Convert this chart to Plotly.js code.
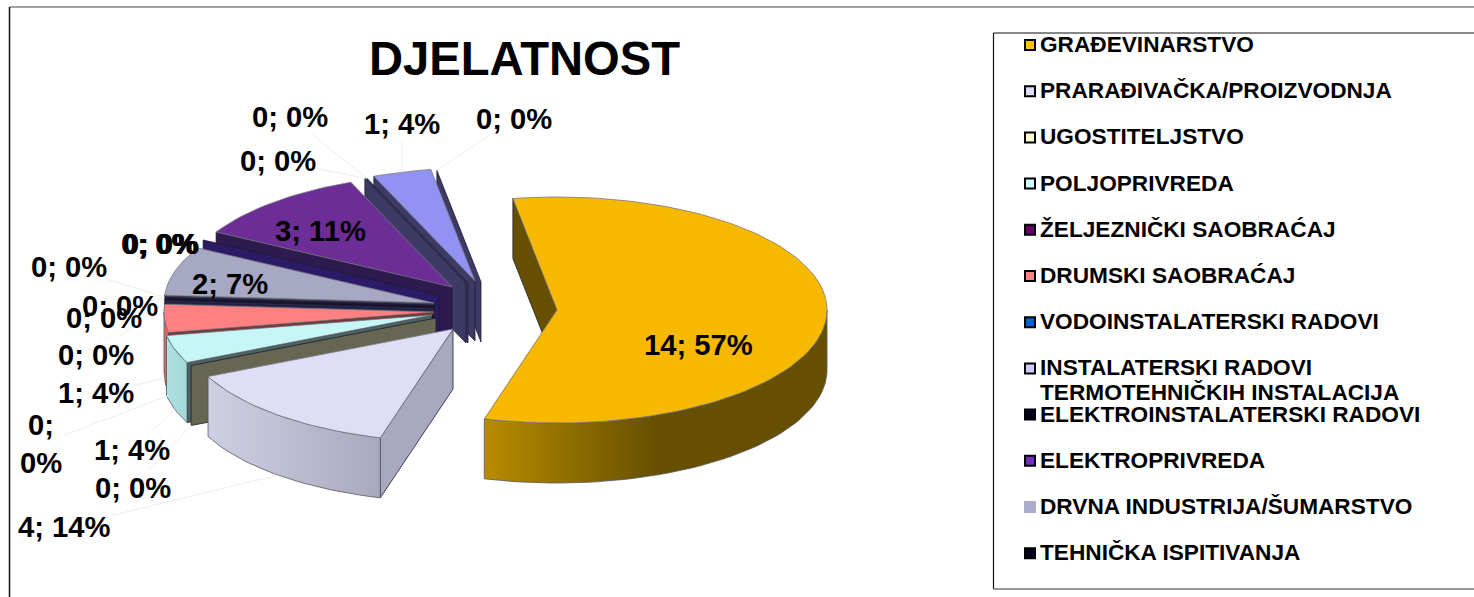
<!DOCTYPE html>
<html>
<head>
<meta charset="utf-8">
<script src="https://cdn.plot.ly/plotly-3.0.1.min.js"></script>
<style>html,body{margin:0;padding:0;background:#fff;overflow:hidden}#chart{width:1474px;height:597px}</style>
</head>
<body>
<div id="chart"></div>
<script>
// ---------- data ----------
const chartTitle = "DJELATNOST";
const categories = ["GRAĐEVINARSTVO","PRARAĐIVAČKA/PROIZVODNJA","UGOSTITELJSTVO","POLJOPRIVREDA","ŽELJEZNIČKI SAOBRAĆAJ","DRUMSKI SAOBRAĆAJ","VODOINSTALATERSKI RADOVI","INSTALATERSKI RADOVI<br>TERMOTEHNIČKIH INSTALACIJA","ELEKTROINSTALATERSKI RADOVI","ELEKTROPRIVREDA","DRVNA INDUSTRIJA/ŠUMARSTVO","TEHNIČKA ISPITIVANJA"];
const legendColors = ["#FFC000","#DDDDF8","#FFFFCC","#CCFFFF","#660066","#FF8080","#0066CC","#CCCCFF","#000020","#7030C0","#AAAECC","#000020"];
const legendEdges  = ["#000","#000","#000","#000","#000","#000","#000","#000","#000","#000","#AAAECC","#000"];
// slices in drawing order; the reference shows more slices than its legend lists
const values   = [14,4,0,1,0,1,0,0,0,0,2,0,3,0,0,1,0];
const percents = [57,14,0,4,0,4,0,0,0,0,7,0,11,0,0,4,0];
const shares   = [56.95,13.75,0,4,0,4,0,0,0,0,7,0,10.8,0,0,3.5,0];
const topColors  = ["#F7B900","#DEDEF6","#FFFFCC","#C6F6F6","#660066","#FF8080","#0066CC","#CCCCFF","#000020","#7030C0","#A6A8C4","#000020","#6C2D96","#9090F0","#9090F0","#9292F4","#9090F0"];
const sideColors = ["#665000","#A8A8C0","#666652","#4E6262","#2C0A3A","#7A3A3A","#2A2A55","#2A2A55","#1A1030","#2A1A55","#42425A","#2B1A66","#2D1A4F","#3D3A66","#3D3A66","#3D3A66","#3D3A66"];
const arcFrom = ["#B88C00","#CFCFE4","","#B0E0E0","","#E86868","","","","","","","","","","",""];
const arcTo   = ["#665000","#A8A8BE","","#A4D8D8","","#D85A5A","","","","","","","","","","",""];

// ---------- layout constants (pixel-scaled hidden axes) ----------
const W = 1474, H = 597, RX = 270, RY = 113, DEPTH = 60, START = -9.4;
const tipX = [557,453,436,432,434,434,434,434,434,434,434,439,452,466,468,475,481];
const tipY = [310,329,318,315,315,312,310,308,306,305,303,295,287,283,283,281,282];
const labelX = [698,64,133,132,41,96,96,104,120,69,230,160,320,278,290,402,514];
const labelY = [345,527,488,450,444,393,355,318,306,267,284,244,231,161,117,124,119];
const insideLabels = [0,10,11,12];
const wrappedLabel = 4, heavyLabel = 11;
const LEGEND_TOP = 45, LEGEND_STEP = 46.2, LEGEND_SWATCH_X = 1030, LEGEND_TEXT_X = 1040, LEGEND_LINE = 25;
const FONT = "Liberation Sans, Arial, sans-serif";

// ---------- geometry derived from the shares ----------
let acc = START;
const startAngle = [], endAngle = [];
shares.forEach(s => { startAngle.push(acc); acc += s * 3.6; endAngle.push(acc); });
const pt = (i, t, d) => { const r = t * Math.PI / 180; return [tipX[i] + RX * Math.sin(r), tipY[i] - RY * Math.cos(r) + (d || 0)]; };
const arcPts = (i, a, b, d) => { const o = [], n = Math.max(1, Math.ceil((b - a) / 2)); for (let k = 0; k <= n; k++) o.push(pt(i, a + (b - a) * k / n, d)); return o; };
const poly = (pts, color, line, extra) => Object.assign({
  type: "scatter", mode: "lines", x: pts.map(p => p[0]), y: pts.map(p => p[1]),
  fill: "toself", fillcolor: color, line: { color: line || color, width: 0.8 },
  hoverinfo: "skip", showlegend: false
}, extra || {});

const traces = [];
function drawSlice(i) {
  const a = startAngle[i], b = endAngle[i];
  const c = pt(i, a), tip = [tipX[i], tipY[i]];
  // radial wall
  traces.push(poly([c, tip, [tip[0], tip[1] + DEPTH], [c[0], c[1] + DEPTH], c], sideColors[i], "#1c1c2c"));
  if (b > a) {
    // outer wall on the front half
    const fa = Math.max(a, 90), fb = Math.min(b, 270);
    if (fb > fa) {
      const wall = arcPts(i, fa, fb, 0).concat(arcPts(i, fa, fb, DEPTH).reverse());
      wall.push(wall[0]);
      const xs = wall.map(p => p[0]);
      traces.push(poly(wall, arcFrom[i], "#55555f", {
        fillgradient: { type: "horizontal", start: Math.min(...xs), stop: Math.max(...xs),
          colorscale: i === 0 ? [[0, arcFrom[i]], [0.5, arcTo[i]], [1, arcTo[i]]]
                              : [[0, arcFrom[i]], [1, arcTo[i]]] }
      }));
    }
    // top face
    const top = [tip].concat(arcPts(i, a, b, 0)); top.push(tip);
    traces.push(poly(top, topColors[i], "#77777f"));
  }
}
drawSlice(0);
for (let i = values.length - 1; i >= 1; i--) drawSlice(i);

// legend swatches, one row per category
traces.push({
  type: "scatter", mode: "markers",
  x: categories.map(() => LEGEND_SWATCH_X),
  y: categories.map((_, i) => LEGEND_TOP + LEGEND_STEP * i),
  marker: { symbol: "square", size: 10, color: legendColors, line: { color: legendEdges, width: 2 } },
  hoverinfo: "skip", showlegend: false
});

// ---------- annotations ----------
const annotations = [];
values.forEach((v, i) => {
  const text = i === wrappedLabel ? v + ";<br>" + percents[i] + "%" : v + "; " + percents[i] + "%";
  const font = { family: FONT, size: 29.2, color: "#000", weight: 700 };
  if (i === heavyLabel) font.shadow = "1px 0 0 #000, -1px 0 0 #000";
  if (insideLabels.includes(i)) {
    annotations.push({ xref: "x", yref: "y", x: labelX[i], y: labelY[i], text, showarrow: false, font, xanchor: "center", yanchor: "middle" });
  } else {
    const m = (startAngle[i] + endAngle[i]) / 2;
    const p = pt(i, m, m > 90 && m < 270 ? DEPTH : 0);
    annotations.push({ xref: "x", yref: "y", axref: "x", ayref: "y", x: p[0], y: p[1], ax: labelX[i], ay: labelY[i], text,
      showarrow: true, arrowhead: 0, arrowwidth: 1, arrowcolor: "#EDEDED", font, xanchor: "center", yanchor: "middle" });
  }
});
categories.forEach((c, i) => {
  c.split("<br>").forEach((line, k) => annotations.push({
    xref: "x", yref: "y", x: LEGEND_TEXT_X, y: LEGEND_TOP - 1 + LEGEND_STEP * i + k * LEGEND_LINE, text: line,
    showarrow: false, xanchor: "left", yanchor: "middle", xshift: -2,
    font: { family: FONT, size: 22.65, color: "#000", weight: 700 }
  }));
});

const seg = (x0, y0, x1, y1, color, width) => ({ type: "line", xref: "x", yref: "y", x0, y0, x1, y1, line: { color, width }, layer: "below" });
const layout = {
  width: W, height: H, margin: { l: 0, r: 0, t: 0, b: 0, pad: 0 },
  paper_bgcolor: "#fff", plot_bgcolor: "#fff", showlegend: false, hovermode: false,
  title: { text: chartTitle, x: 524.5 / W, xref: "paper", xanchor: "center", y: 1 - 58 / H, yref: "paper", yanchor: "middle",
           font: { family: FONT, size: 47.2, color: "#000", weight: 700 } },
  xaxis: { range: [0, W], visible: false, fixedrange: true },
  yaxis: { range: [H, 0], visible: false, fixedrange: true },
  shapes: [
    seg(9.5, 7, W + 5, 7, "#444", 1),
    seg(9.5, 7, 9.5, H + 5, "#111", 1.5),
    seg(993.5, 33, W + 5, 33, "#111", 1.2),
    seg(993.5, 33, 993.5, 589, "#111", 1.2),
    seg(993.5, 589, W + 5, 589, "#777", 1.5)
  ],
  annotations
};
Plotly.newPlot("chart", traces, layout, { displayModeBar: false, staticPlot: true });
</script>
</body>
</html>
